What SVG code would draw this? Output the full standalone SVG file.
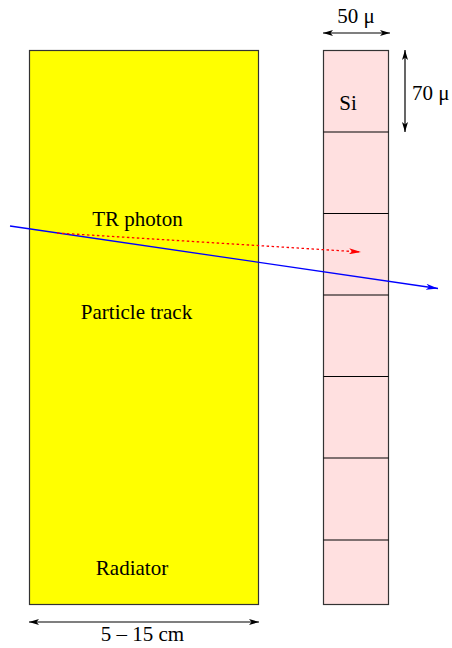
<svg xmlns="http://www.w3.org/2000/svg" width="452" height="648" viewBox="0 0 452 648">
<style>
text{font-family:'Liberation Serif','Times New Roman','DejaVu Serif',serif;font-size:21px;fill:#000}
.ln{stroke:#000;stroke-width:1.2;fill:none}
</style>
<defs>
<marker id="ah" viewBox="0 0 10 6" refX="10" refY="3" markerWidth="10" markerHeight="6" orient="auto-start-reverse" markerUnits="userSpaceOnUse"><path d="M0,0 L10,3 L0,6 L2.5,3 Z" fill="#000"/></marker>
<marker id="ab" viewBox="0 0 12 6" refX="12" refY="3" markerWidth="12" markerHeight="6" orient="auto" markerUnits="userSpaceOnUse"><path d="M0,0 L12,3 L0,6 L3,3 Z" fill="#00f"/></marker>
<marker id="ar" viewBox="0 0 12 6" refX="12" refY="3" markerWidth="12" markerHeight="6" orient="auto" markerUnits="userSpaceOnUse"><path d="M0,0 L12,3 L0,6 L3,3 Z" fill="#f00"/></marker>
</defs>
<g id="radiator">
<rect x="29.5" y="50.5" width="229" height="554" fill="#ffff00" stroke="#333" stroke-width="1.2"/>
<text x="137.5" y="226" text-anchor="middle">TR photon</text>
<text x="136.5" y="319" text-anchor="middle">Particle track</text>
<text x="132" y="575" text-anchor="middle">Radiator</text>
</g>
<g id="detector">
<rect x="323.5" y="50.5" width="65" height="554" fill="#ffe0e0" stroke="#333" stroke-width="1.2"/>
<path class="ln" d="M323.5,132 H388.5 M323.5,213.5 H388.5 M323.5,295 H388.5 M323.5,376.5 H388.5 M323.5,458 H388.5 M323.5,540 H388.5" stroke="#333"/>
<text x="348" y="110" text-anchor="middle">Si</text>
</g>
<g id="connectors">
<line x1="10" y1="226" x2="438" y2="288.5" stroke="#00f" stroke-width="1.3" marker-end="url(#ab)"/>
<line x1="57" y1="233" x2="361" y2="252" stroke="#f00" stroke-width="1.3" stroke-dasharray="2.5,2.5" marker-end="url(#ar)"/>
<line class="ln" x1="323" y1="33" x2="390" y2="33" marker-start="url(#ah)" marker-end="url(#ah)"/>
<line class="ln" x1="405" y1="50" x2="405" y2="132" marker-start="url(#ah)" marker-end="url(#ah)"/>
<line class="ln" x1="29" y1="622" x2="259" y2="622" marker-start="url(#ah)" marker-end="url(#ah)"/>
</g>
<g id="labels">
<text x="356" y="23" text-anchor="middle">50 μ</text>
<text x="412" y="100">70 μ</text>
<text x="142.5" y="641" text-anchor="middle">5 – 15 cm</text>
</g>
</svg>
